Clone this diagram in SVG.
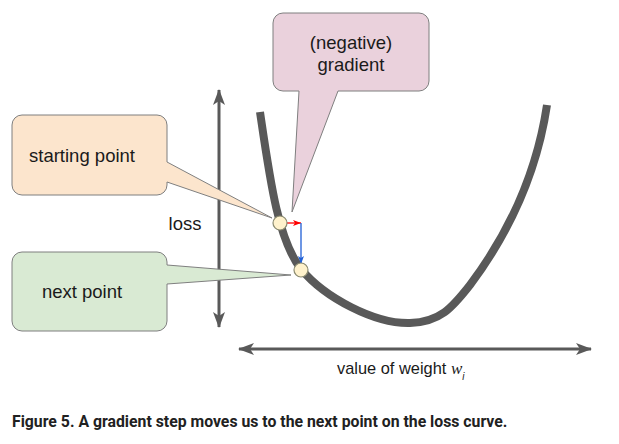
<svg xmlns="http://www.w3.org/2000/svg" width="619" height="444" viewBox="0 0 619 444">
<defs>
<style>
.lbl{font-family:"Liberation Sans",Arial,sans-serif;font-size:18.5px;fill:#1a1a1a}
.box{stroke:#7f7f7f;stroke-width:1}
.axis{stroke:#595959;stroke-width:3;fill:none}
.pt{fill:#fff2cc;stroke:#8a8a70;stroke-width:1.2}
</style>
<marker id="ah" viewBox="0 0 16 12" refX="15" refY="6" markerWidth="16" markerHeight="12" markerUnits="userSpaceOnUse" orient="auto-start-reverse">
<path d="M0,0 L16,6 L0,12 L4,6 Z" fill="#595959"/>
</marker>
<marker id="ar" viewBox="0 0 8 6" refX="8" refY="3" markerWidth="8" markerHeight="6" markerUnits="userSpaceOnUse" orient="auto">
<path d="M0,0 L8,3 L0,6 L2,3 Z" fill="#ff0000"/>
</marker>
<marker id="ab" viewBox="0 0 8 6" refX="8" refY="3" markerWidth="8" markerHeight="6" markerUnits="userSpaceOnUse" orient="auto">
<path d="M0,0 L8,3 L0,6 L2,3 Z" fill="#1f5fd6"/>
</marker>
</defs>
<rect width="619" height="444" fill="#ffffff"/>
<g id="connectors">
<line class="axis" x1="219" y1="327" x2="219" y2="90" marker-end="url(#ah)" marker-start="url(#ah)"/>
<line class="axis" x1="239" y1="349" x2="591" y2="349" marker-end="url(#ah)" marker-start="url(#ah)"/>
<path id="curve" d="M260,112 C270,180 278,240 301,269 C325,298 375,324 410,323 C440,322 452,308 470,285 C500,245 535,185 547,105" fill="none" stroke="#595959" stroke-width="8"/>
<line x1="287" y1="223" x2="301" y2="223" stroke="#ff0000" stroke-width="1.3" marker-end="url(#ar)"/>
<line x1="301" y1="223" x2="301" y2="264" stroke="#1f5fd6" stroke-width="1.3" marker-end="url(#ab)"/>
</g>
<g id="starting-point">
<path class="box" fill="#fce5cd" d="M22,115 H157 A10,10 0 0 1 167,125 V162 L272,218 L167,182 V185 A10,10 0 0 1 157,195 H22 A10,10 0 0 1 12,185 V125 A10,10 0 0 1 22,115 Z"/>
<text class="lbl" x="82" y="162" text-anchor="middle">starting point</text>
</g>
<g id="next-point">
<path class="box" fill="#d9ead3" d="M22,252 H157 A10,10 0 0 1 167,262 V265 L291,275 L167,284 V321 A10,10 0 0 1 157,331 H22 A10,10 0 0 1 12,321 V262 A10,10 0 0 1 22,252 Z"/>
<text class="lbl" x="82" y="298" text-anchor="middle">next point</text>
</g>
<g id="gradient">
<path class="box" fill="#ead1dc" d="M283,13 H419 A10,10 0 0 1 429,23 V81 A10,10 0 0 1 419,91 H338 L292,212 L299,91 H283 A10,10 0 0 1 273,81 V23 A10,10 0 0 1 283,13 Z"/>
<text class="lbl" x="351" y="49" text-anchor="middle">(negative)</text>
<text class="lbl" x="351" y="71" text-anchor="middle">gradient</text>
</g>
<g id="points">
<circle class="pt" cx="280" cy="223" r="7"/>
<circle class="pt" cx="301" cy="270" r="7"/>
</g>
<g id="labels">
<text class="lbl" x="185" y="230" text-anchor="middle">loss</text>
<text class="lbl" x="337" y="374" style="font-size:16.4px">value of weight <tspan font-family="Liberation Serif,serif" font-style="italic" font-size="17">w</tspan><tspan font-size="10" font-style="italic" dy="6">i</tspan></text>
<text x="12" y="427" font-family="Roboto,'Liberation Sans',sans-serif" font-weight="bold" font-size="15.8" fill="#212121">Figure 5. A gradient step moves us to the next point on the loss curve.</text>
</g>
</svg>
